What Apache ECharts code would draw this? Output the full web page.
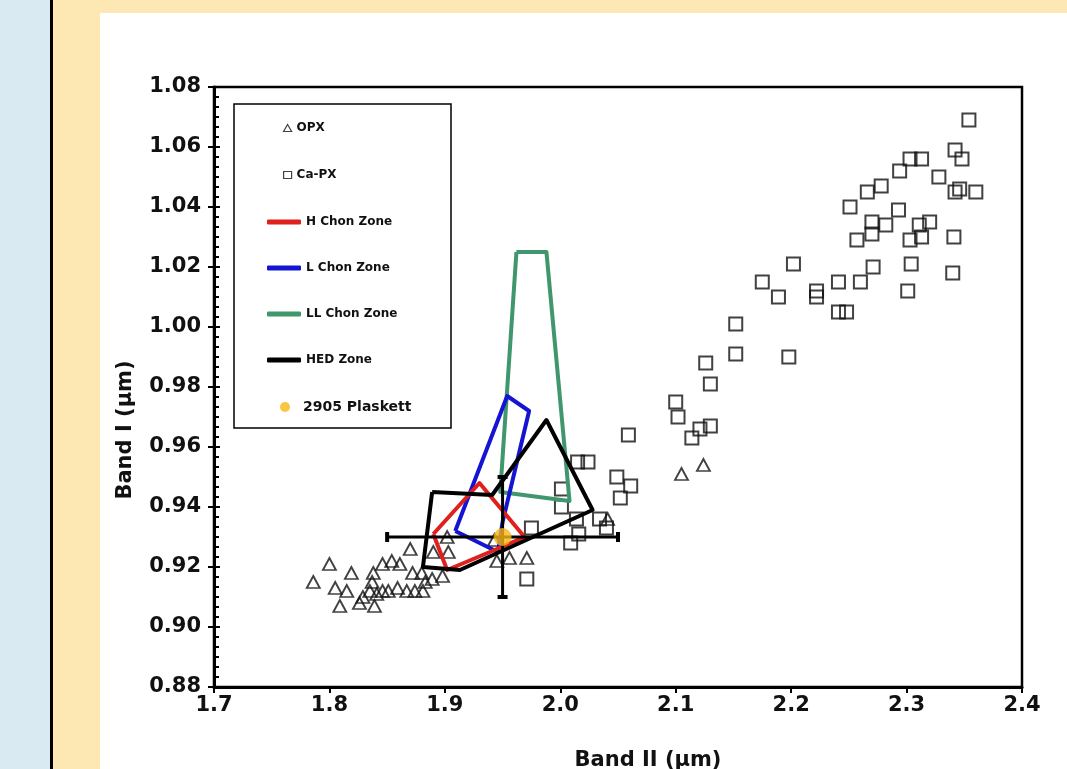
<!DOCTYPE html>
<html>
<head>
<meta charset="utf-8">
<title>Band I vs Band II</title>
<script src="https://cdn.jsdelivr.net/npm/echarts@6/dist/echarts.min.js"></script>
<style>
  html, body { margin: 0; padding: 0; width: 1067px; height: 769px; overflow: hidden; background: #fde8b4; }
  #strip { position: absolute; left: 0; top: 0; width: 50px; height: 769px; background: #d9eaf2; border-right: 3px solid #000; }
  #panel { position: absolute; left: 100px; top: 13px; right: 0; bottom: 0; background: #fff; }
  #chart { position: absolute; left: 0; top: 0; width: 1067px; height: 769px; }
</style>
</head>
<body>
<div id="strip"></div>
<div id="panel"></div>
<div id="chart"></div>
<script>
// band centres, [Band II, Band I] in µm
const opxData = [
  [1.786, 0.915], [1.800, 0.921], [1.819, 0.918], [1.805, 0.913], [1.815, 0.912],
  [1.809, 0.907], [1.826, 0.908], [1.839, 0.907], [1.837, 0.915], [1.838, 0.918],
  [1.846, 0.921], [1.854, 0.922], [1.861, 0.921], [1.870, 0.926], [1.872, 0.918],
  [1.880, 0.918], [1.889, 0.916], [1.898, 0.917], [1.890, 0.925], [1.903, 0.925],
  [1.835, 0.912], [1.846, 0.912], [1.851, 0.912], [1.859, 0.913], [1.867, 0.912],
  [1.874, 0.912], [1.881, 0.912], [1.883, 0.915], [1.829, 0.910], [1.841, 0.911],
  [1.902, 0.930], [1.943, 0.929], [1.945, 0.922], [1.956, 0.923], [1.971, 0.923],
  [2.041, 0.936], [2.105, 0.951], [2.124, 0.954]
]
const cpxData = [
  [2.354, 1.069], [2.342, 1.059], [2.348, 1.056], [2.303, 1.056], [2.313, 1.056],
  [2.294, 1.052], [2.328, 1.050], [2.278, 1.047], [2.266, 1.045], [2.342, 1.045],
  [2.346, 1.046], [2.360, 1.045], [2.251, 1.040], [2.293, 1.039], [2.270, 1.035],
  [2.282, 1.034], [2.311, 1.034], [2.320, 1.035], [2.257, 1.029], [2.270, 1.031],
  [2.303, 1.029], [2.313, 1.030], [2.341, 1.030], [2.202, 1.021], [2.304, 1.021],
  [2.271, 1.020], [2.340, 1.018], [2.175, 1.015], [2.241, 1.015], [2.260, 1.015],
  [2.222, 1.012], [2.301, 1.012], [2.189, 1.010], [2.222, 1.010], [2.241, 1.005],
  [2.248, 1.005], [2.152, 1.001], [2.126, 0.988], [2.130, 0.981], [2.152, 0.991],
  [2.198, 0.990], [2.100, 0.975], [2.102, 0.970], [2.114, 0.963], [2.121, 0.966],
  [2.130, 0.967], [2.059, 0.964], [2.015, 0.955], [2.024, 0.955], [2.049, 0.950],
  [2.061, 0.947], [2.052, 0.943], [2.001, 0.946], [2.001, 0.940], [2.014, 0.936],
  [2.034, 0.936], [2.040, 0.933], [2.016, 0.931], [2.009, 0.928], [1.975, 0.933],
  [1.971, 0.916]
]
// zone outlines (closed polygons)
const hChonZone = [[1.890, 0.931], [1.930, 0.948], [1.969, 0.930], [1.939, 0.925], [1.902, 0.919], [1.890, 0.931]]
const lChonZone = [[1.909, 0.932], [1.954, 0.977], [1.973, 0.972], [1.950, 0.935], [1.946, 0.925], [1.909, 0.932]]
const llChonZone = [[1.962, 1.025], [1.988, 1.025], [2.008, 0.942], [1.948, 0.945], [1.962, 1.025]]
const hedZone = [[1.889, 0.945], [1.941, 0.944], [1.988, 0.969], [2.028, 0.939], [1.913, 0.919], [1.881, 0.920], [1.889, 0.945]]
// 2905 Plaskett with its error bars
const plaskett = [[1.95, 0.93]]
const plaskettErrX = [[1.85, 0.93], [2.05, 0.93]]
const plaskettErrY = [[1.95, 0.91], [1.95, 0.95]]

const labelFont = { fontFamily: 'DejaVu Sans', fontWeight: 'bold', color: '#111' }

function zoneSeries (name, data, color) {
  return {
    name: name,
    type: 'line',
    data: data,
    symbol: 'none',
    lineStyle: { color: color, width: 4, join: 'round' },
    itemStyle: { color: color },
    z: 4,
    silent: true
  }
}

function legendItem (name, icon, left, cy, w, h, fontSize, extra) {
  let lh = fontSize + 4
  return Object.assign({
    data: [name],
    orient: 'vertical',
    left: left,
    top: cy - lh / 2,
    padding: 0,
    icon: icon,
    itemWidth: w,
    itemHeight: h,
    selectedMode: false,
    textStyle: Object.assign({}, labelFont, { fontSize: fontSize, lineHeight: lh })
  }, extra || {})
}

const chart = echarts.init(document.getElementById('chart'))

const option = {
  animation: false,
  grid: {
    left: 214,
    right: 45,
    top: 87,
    bottom: 82,
    show: true,
    borderColor: '#000',
    borderWidth: 2.5,
    backgroundColor: 'transparent'
  },
  xAxis: {
    type: 'value',
    min: 1.7,
    max: 2.4,
    interval: 0.1,
    axisLine: { onZero: false, lineStyle: { color: '#000', width: 3 } },
    axisTick: { show: true, length: 6, lineStyle: { color: '#000', width: 2 } },
    axisLabel: Object.assign({}, labelFont, { fontSize: 21, margin: 8, formatter: v => v.toFixed(1) }),
    splitLine: { show: false }
  },
  yAxis: [{
    type: 'value',
    position: 'left',
    min: 0.88,
    max: 1.08,
    interval: 0.02,
    axisLine: { onZero: false, lineStyle: { color: '#000', width: 3 } },
    axisTick: { show: true, inside: true, length: 6, lineStyle: { color: '#000', width: 2 } },
    minorTick: { show: true, splitNumber: 6, length: 5, lineStyle: { color: '#000', width: 2 } },
    axisLabel: Object.assign({}, labelFont, { fontSize: 21, margin: 13, formatter: v => v.toFixed(2) }),
    splitLine: { show: false },
    minorSplitLine: { show: false }
  }, {
    // only draws the outward half of the major ticks
    type: 'value',
    position: 'left',
    min: 0.88,
    max: 1.08,
    interval: 0.02,
    axisLine: { show: false, onZero: false },
    axisTick: { show: true, inside: false, length: 6, lineStyle: { color: '#000', width: 2 } },
    axisLabel: { show: false },
    splitLine: { show: false }
  }],
  legend: [
    legendItem('OPX', 'triangle', 283, 128, 8, 7, 12, { itemStyle: { borderWidth: 1.2, borderColor: '#111' } }),
    legendItem('Ca-PX', 'rect', 283, 175, 8, 7, 12, { itemStyle: { borderWidth: 1.2, borderColor: '#111' } }),
    legendItem('H Chon Zone', 'roundRect', 267, 222, 34, 5, 12),
    legendItem('L Chon Zone', 'roundRect', 267, 268, 34, 5, 12),
    legendItem('LL Chon Zone', 'roundRect', 267, 314, 34, 5, 12),
    legendItem('HED Zone', 'roundRect', 267, 360, 34, 5, 12),
    legendItem('2905 Plaskett', 'circle', 280, 407, 10, 10, 14, { textStyle: Object.assign({}, labelFont, { fontSize: 14, lineHeight: 18, padding: [0, 0, 0, 8] }) })
  ],
  graphic: [
    {
      type: 'rect',
      shape: { x: 234, y: 104, width: 217, height: 324 },
      style: { fill: '#fff', stroke: '#000', lineWidth: 1.5 },
      z: 0,
      silent: true
    },
    {
      type: 'text',
      x: 126,
      y: 430,
      rotation: Math.PI / 2,
      style: { text: 'Band I (µm)', font: 'bold 21px "DejaVu Sans"', fill: '#111', align: 'center', verticalAlign: 'middle' },
      silent: true
    },
    {
      type: 'text',
      x: 648,
      y: 761,
      style: { text: 'Band II (µm)', font: 'bold 21px "DejaVu Sans"', fill: '#111', align: 'center', verticalAlign: 'middle' },
      silent: true
    }
  ],
  series: [
    {
      name: 'OPX',
      type: 'scatter',
      data: opxData,
      symbol: 'triangle',
      symbolSize: [13, 12],
      itemStyle: { color: 'rgba(255,255,255,0)', borderColor: '#111', borderWidth: 1.8 },
      z: 2
    },
    {
      name: 'Ca-PX',
      type: 'scatter',
      data: cpxData,
      symbol: 'rect',
      symbolSize: 13,
      itemStyle: { color: 'rgba(255,255,255,0)', borderColor: '#111', borderWidth: 2 },
      z: 2
    },
    zoneSeries('LL Chon Zone', llChonZone, '#40976e'),
    zoneSeries('L Chon Zone', lChonZone, '#1414d2'),
    zoneSeries('H Chon Zone', hChonZone, '#e0201c'),
    zoneSeries('HED Zone', hedZone, '#000000'),
    {
      type: 'line',
      data: plaskettErrX,
      symbol: 'rect',
      symbolSize: [4, 10],
      lineStyle: { color: '#000', width: 3 },
      itemStyle: { color: '#000' },
      z: 5,
      silent: true
    },
    {
      type: 'line',
      data: plaskettErrY,
      symbol: 'rect',
      symbolSize: [10, 4],
      lineStyle: { color: '#000', width: 3 },
      itemStyle: { color: '#000' },
      z: 5,
      silent: true
    },
    {
      name: '2905 Plaskett',
      type: 'scatter',
      data: plaskett,
      symbol: 'circle',
      symbolSize: 18,
      itemStyle: { color: '#f7b614' },
      z: 6
    }
  ]
}

chart.setOption(option)
</script>
</body>
</html>
